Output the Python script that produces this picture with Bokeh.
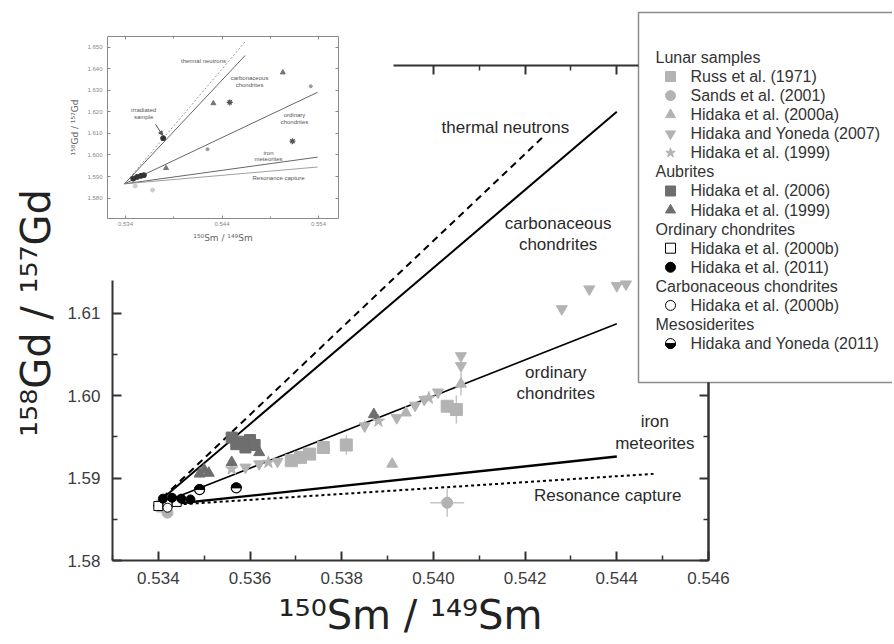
import numpy as np
from bokeh.plotting import figure
from bokeh.models import Range1d, LinearAxis, FixedTicker, PrintfTickFormatter, Arrow, NormalHead
from bokeh.embed import file_html
from bokeh.resources import INLINE
from bokeh.core.properties import value

FONT = "Liberation Sans"
LABEL_FONT = "DejaVu Sans"
LIGHT = "#b3b3b3"
DARK = "#6e6e6e"

# ---------------- data ----------------
x_ticks = [0.534, 0.536, 0.538, 0.540, 0.542, 0.544, 0.546]
x_minor = [0.533, 0.535, 0.537, 0.539, 0.541, 0.543, 0.545]
y_ticks = [1.58, 1.59, 1.60, 1.61, 1.62, 1.63, 1.64]
y_minor = [1.585, 1.595, 1.605, 1.615, 1.625, 1.635]

# model lines: common origin, individual end points
line_names = ["thermal neutrons", "carbonaceous chondrites", "ordinary chondrites",
              "iron meteorites", "Resonance capture"]
line_x0 = 0.5339
line_y0 = 1.5866
line_end_x = [0.5424, 0.5440, 0.5440, 0.5440, 0.5448]
line_end_y = [1.6314, 1.6344, 1.6087, 1.5926, 1.5905]

# line annotations (text, x, y)
label_text = ["thermal neutrons", "carbonaceous", "chondrites", "ordinary", "chondrites",
              "iron", "meteorites", "Resonance capture"]
label_x = [0.54157, 0.54272, 0.54272, 0.54267, 0.54267, 0.54483, 0.54483, 0.54380]
label_y = [1.63248, 1.62087, 1.61833, 1.60273, 1.60019, 1.59681, 1.59415, 1.58786]

# Lunar samples
russ_x = [0.5341, 0.5369, 0.5371, 0.5373, 0.5376, 0.5381, 0.5403, 0.5405]
russ_y = [1.5866, 1.5921, 1.5925, 1.5929, 1.5937, 1.5940, 1.5987, 1.5983]
sands_x = [0.5342, 0.5403]
sands_y = [1.5858, 1.5870]
hid00a_x = [0.5391, 0.5406, 0.5394]
hid00a_y = [1.5917, 1.6014, 1.5979]
hy07_x = [0.5359, 0.5362, 0.5366, 0.5370, 0.5385, 0.5392, 0.5396, 0.5398, 0.5401,
          0.5406, 0.5406, 0.5428, 0.5434, 0.5440, 0.5442]
hy07_y = [1.5913, 1.5917, 1.5920, 1.5924, 1.5963, 1.5973, 1.5988, 1.5995, 1.6004,
          1.6036, 1.6048, 1.6105, 1.6129, 1.6133, 1.6135]
hid99_x = [0.5356, 0.5364, 0.5388, 0.5399]
hid99_y = [1.5911, 1.5919, 1.5969, 1.5997]
# Aubrites
aub06_x = [0.5356, 0.5358, 0.5359, 0.5360, 0.5361, 0.5357]
aub06_y = [1.5949, 1.5944, 1.5937, 1.5946, 1.5940, 1.5941]
aub99_x = [0.5349, 0.5350, 0.5351, 0.5356, 0.5362, 0.5387]
aub99_y = [1.5905, 1.5910, 1.5906, 1.5919, 1.5931, 1.5977]
# Ordinary chondrites
oc00_x = [0.5340, 0.5342, 0.5344]
oc00_y = [1.5866, 1.5869, 1.5871]
oc11_x = [0.5341, 0.5343, 0.5345, 0.5347]
oc11_y = [1.5875, 1.5876, 1.5875, 1.5874]
# Carbonaceous chondrites
cc_x = [0.5342]
cc_y = [1.5864]
# Mesosiderites
meso_x = [0.5349, 0.5357]
meso_y = [1.5886, 1.5888]

# error bars
err_x = [0.5381, 0.5405, 0.5403, 0.5406, 0.5385, 0.5371]
err_y = [1.5940, 1.5983, 1.5870, 1.6014, 1.5963, 1.5925]
err_dx = [0.0, 0.0, 0.00037, 0.0, 0.0, 0.0]
err_dy = [0.0012, 0.0017, 0.0017, 0.0014, 0.0007, 0.0006]

# inset
ins_x_ticks = [0.534, 0.544, 0.554]
ins_x_minor = [0.539, 0.549]
ins_y_ticks = [1.57, 1.58, 1.59, 1.60, 1.61, 1.62, 1.63, 1.64, 1.65]
ins_end_x = [0.5465, 0.5464, 0.5539, 0.5539, 0.5539]
ins_end_y = [1.6531, 1.6462, 1.6291, 1.5990, 1.5944]
ins_label_text = ["thermal neutrons", "carbonaceous", "chondrites", "ordinary", "chondrites",
                  "iron", "meteorites", "Resonance capture", "irradiated", "sample"]
ins_label_x = [0.54208, 0.54685, 0.54685, 0.55151, 0.55151, 0.54882, 0.54882, 0.54985,
               0.53587, 0.53587]
ins_label_y = [1.64343, 1.63556, 1.63231, 1.61843, 1.61519, 1.60083, 1.59806, 1.58926,
               1.62074, 1.61750]
ins_tri_x = [0.5431, 0.5503, 0.5382]
ins_tri_y = [1.6240, 1.6383, 1.5939]
ins_star_x = [0.5448, 0.5513]
ins_star_y = [1.6244, 1.6064]
ins_small_x = [0.5532, 0.5425]
ins_small_y = [1.6319, 1.6027]
ins_dark_x = [0.5379, 0.5348, 0.5352, 0.5356, 0.5359]
ins_dark_y = [1.6078, 1.5890, 1.5898, 1.5903, 1.5906]
ins_light_x = [0.5350, 0.5368]
ins_light_y = [1.5856, 1.5837]

# legend rows: (text, marker, fill, line)
legend_rows = [
    ("Lunar samples", None, None, None),
    ("Russ et al. (1971)", "square", LIGHT, LIGHT),
    ("Sands et al. (2001)", "circle", LIGHT, LIGHT),
    ("Hidaka et al. (2000a)", "triangle", LIGHT, LIGHT),
    ("Hidaka and Yoneda (2007)", "inverted_triangle", LIGHT, LIGHT),
    ("Hidaka et al. (1999)", "star", LIGHT, LIGHT),
    ("Aubrites", None, None, None),
    ("Hidaka et al. (2006)", "square", DARK, DARK),
    ("Hidaka et al. (1999)", "triangle", DARK, DARK),
    ("Ordinary chondrites", None, None, None),
    ("Hidaka et al. (2000b)", "square", "white", "black"),
    ("Hidaka et al. (2011)", "circle", "black", "black"),
    ("Carbonaceous chondrites", None, None, None),
    ("Hidaka et al. (2000b)", "circle", "white", "black"),
    ("Mesosiderites", None, None, None),
    ("Hidaka and Yoneda (2011)", "half", "white", "black"),
]

# ---------------- layout geometry (canvas pixels) ----------------
CW, CH = 892, 642
MAIN_X = (0.533, 0.546); MAIN_PX = (112, 708)
MAIN_Y = (1.58, 1.64); MAIN_PY = (560, 65)
INS_X = (0.53213, 0.55607); INS_PX = (107, 338)
INS_Y = (1.5705, 1.655); INS_PY = (218, 36)


def val_at(q, d, pq):
    return d[0] + (q - pq[0]) * (d[1] - d[0]) / (pq[1] - pq[0])


x_range = Range1d(val_at(0, MAIN_X, MAIN_PX), val_at(CW, MAIN_X, MAIN_PX))
y_range = Range1d(val_at(CH, MAIN_Y, MAIN_PY), val_at(0, MAIN_Y, MAIN_PY))

p = figure(width=CW, height=CH, x_range=x_range, y_range=y_range, output_backend="svg",
           toolbar_location=None, x_axis_location=None, y_axis_location=None, min_border=0)
p.title.visible = False
p.outline_line_color = None
p.grid.visible = False
p.background_fill_color = "white"
p.border_fill_color = "white"
p.extra_x_ranges = {"ix": Range1d(val_at(0, INS_X, INS_PX), val_at(CW, INS_X, INS_PX)),
                    "px": Range1d(0, CW)}
p.extra_y_ranges = {"iy": Range1d(val_at(CH, INS_Y, INS_PY), val_at(0, INS_Y, INS_PY)),
                    "py": Range1d(CH, 0)}


def make_axis(ticks, minor, fmt, bounds, size="17px", tick_in=9, minor_in=5, color="#333333",
              width=2, labels=True, **kw):
    lo, hi = min(bounds), max(bounds)
    eps = (hi - lo) * 1e-6
    ax = LinearAxis(bounds=bounds, **kw)
    ax.ticker = FixedTicker(ticks=[t for t in ticks if lo - eps <= t <= hi + eps],
                            minor_ticks=[t for t in minor if lo - eps <= t <= hi + eps])
    ax.formatter = PrintfTickFormatter(format=fmt if labels else "")
    ax.axis_line_color = color
    ax.axis_line_width = width
    ax.major_tick_line_color = color
    ax.minor_tick_line_color = color
    ax.major_tick_line_width = width
    ax.minor_tick_line_width = max(1, width - 0.5)
    ax.major_tick_in = tick_in
    ax.major_tick_out = 0
    ax.minor_tick_in = minor_in
    ax.minor_tick_out = 0
    ax.major_label_text_font = FONT
    ax.major_label_text_font_size = size
    ax.major_label_text_color = "#3c3c3c"
    ax.axis_label_text_font = LABEL_FONT
    ax.axis_label_text_font_style = "normal"
    ax.axis_label_text_color = "#222222"
    return ax


# ---------------- legend panel box (pixel coordinates, drawn first) ----------------
PR = dict(x_range_name="px", y_range_name="py")
p.quad(left=[638], right=[CW + 40], top=[12], bottom=[382], fill_color="white",
       line_color="#8c8c8c", line_width=1.5, **PR)

# ---- main axes (frame drawn by bounded axes) ----
bx = make_axis(x_ticks, x_minor, "%.3f", MAIN_X, fixed_location=MAIN_Y[0])
bx.major_label_standoff = 11
bx.axis_label = "\u00b9\u2075\u2070Sm / \u00b9\u2074\u2079Sm"
bx.axis_label_text_font_size = "40px"
bx.axis_label_standoff = 5
p.add_layout(bx, "below")

ly = make_axis(y_ticks, y_minor, "%.2f", (MAIN_Y[0], val_at(280, MAIN_Y, MAIN_PY)),
               fixed_location=MAIN_X[0])
ly.major_label_standoff = 12
p.add_layout(ly, "left")

ylab = make_axis([], [], "%.2f", MAIN_Y, fixed_location=MAIN_X[0])
ylab.axis_line_color = None
ylab.major_label_standoff = 0
ylab.axis_label = "\u00b9\u2075\u2078Gd / \u00b9\u2075\u2077Gd"
ylab.axis_label_text_font_size = "40px"
ylab.axis_label_standoff = 54
p.add_layout(ylab, "left")

top_bounds = (val_at(393, MAIN_X, MAIN_PX), val_at(638, MAIN_X, MAIN_PX))
tx = make_axis(x_ticks, x_minor, "%.3f", top_bounds, labels=False, fixed_location=MAIN_Y[1])
p.add_layout(tx, "above")
right_bounds = (MAIN_Y[0], val_at(382, MAIN_Y, MAIN_PY))
ry = make_axis(y_ticks, y_minor, "%.2f", right_bounds, labels=False, fixed_location=MAIN_X[1])
ry.major_tick_in = 0
ry.major_tick_out = 9
ry.minor_tick_in = 0
ry.minor_tick_out = 5
p.add_layout(ry, "left")
# right frame edge also as a plain line
p.line(x=[MAIN_X[1], MAIN_X[1]], y=[right_bounds[0], right_bounds[1]], line_color="#333333",
       line_width=2)

# ---- model lines ----
line_styles = [(2.0, "7 5"), (2.0, None), (1.6, None), (2.4, None), (2.0, "3 3")]
for i in range(len(line_names)):
    w, dash = line_styles[i]
    p.line([line_x0, line_end_x[i]], [line_y0, line_end_y[i]], line_color="black",
           line_width=w, line_dash=dash if dash else "solid")

p.text(x=label_x, y=label_y, text=label_text, text_align="center", text_baseline="middle",
       text_font=value(FONT), text_font_size="17px", text_color="#2a2a2a")

# ---- error bars and data ----
ex = np.array(err_x); ey = np.array(err_y); edx = np.array(err_dx); edy = np.array(err_dy)
p.segment(ex, ey - edy, ex, ey + edy, line_color="#c4c4c4", line_width=1.5)
p.segment(ex - edx, ey, ex + edx, ey, line_color="#c4c4c4", line_width=1.5)

S = 11
p.scatter(russ_x, russ_y, marker="square", size=S + 1, fill_color=LIGHT, line_color=LIGHT)
p.scatter(sands_x, sands_y, marker="circle", size=S, fill_color=LIGHT, line_color=LIGHT)
p.scatter(hid00a_x, hid00a_y, marker="triangle", size=S, fill_color=LIGHT, line_color=LIGHT)
p.scatter(hy07_x, hy07_y, marker="inverted_triangle", size=S, fill_color=LIGHT, line_color=LIGHT)
p.scatter(hid99_x, hid99_y, marker="star", size=S + 2, fill_color=LIGHT, line_color=LIGHT)
p.scatter(aub06_x, aub06_y, marker="square", size=S, fill_color=DARK, line_color=DARK)
p.scatter(aub99_x, aub99_y, marker="triangle", size=S, fill_color=DARK, line_color=DARK)
p.scatter(oc00_x, oc00_y, marker="square", size=9, fill_color="white", line_color="black")
p.scatter(oc11_x, oc11_y, marker="circle", size=9, fill_color="black", line_color="black")
p.scatter(cc_x, cc_y, marker="circle", size=9, fill_color="white", line_color="black")
p.scatter(meso_x, meso_y, marker="circle", size=10, fill_color="white", line_color="black",
          line_width=1.2)
p.wedge(meso_x, meso_y, radius=5, radius_units="screen", start_angle=0, end_angle=np.pi,
        fill_color="black", line_color="black")

# ---------------- inset ----------------
IC = "#8a8a8a"
IR = dict(x_range_name="ix", y_range_name="iy")
ibx = make_axis(ins_x_ticks, ins_x_minor, "%.3f", INS_X, size="6px", tick_in=3, minor_in=2,
                color=IC, width=1, fixed_location=INS_Y[0], **IR)
ibx.major_label_standoff = 3
ibx.axis_label = "\u00b9\u2075\u2070Sm / \u00b9\u2074\u2079Sm"
ibx.axis_label_text_font_size = "9px"
ibx.axis_label_standoff = 4
ily = make_axis(ins_y_ticks, [], "%.3f", INS_Y, size="6px", tick_in=3, minor_in=2, color=IC,
                width=1, fixed_location=INS_X[0], **IR)
ily.major_label_standoff = 5
ily.axis_label = "\u00b9\u2075\u2078Gd / \u00b9\u2075\u2077Gd"
ily.axis_label_text_font_size = "9px"
ily.axis_label_standoff = 4
for ax in (ibx, ily):
    ax.major_label_text_color = "#888888"
    ax.axis_label_text_color = "#666666"
p.add_layout(ibx, "below")
p.add_layout(ily, "left")
itx = make_axis(ins_x_ticks, ins_x_minor, "%.3f", INS_X, labels=False, tick_in=3, minor_in=2,
                color=IC, width=1, fixed_location=INS_Y[1], **IR)
p.add_layout(itx, "above")
iry = make_axis(ins_y_ticks, [], "%.3f", INS_Y, labels=False, tick_in=3, minor_in=2, color=IC,
                width=1, fixed_location=INS_X[1], **IR)
p.add_layout(iry, "right")

ins_styles = [("2 2", 1.0, "#9a9a9a"), (None, 1.0, "#666666"), (None, 1.0, "#666666"),
              (None, 1.0, "#666666"), (None, 0.8, "#888888")]
for i in range(len(ins_end_x)):
    dash, w, c = ins_styles[i]
    p.line([line_x0, ins_end_x[i]], [line_y0, ins_end_y[i]], line_color=c, line_width=w,
           line_dash=dash if dash else "solid", **IR)
p.text(x=ins_label_x, y=ins_label_y, text=ins_label_text, text_align="center",
       text_baseline="middle", text_font=value(FONT), text_font_size="6px",
       text_color="#555555", **IR)
p.add_layout(Arrow(end=NormalHead(size=4, fill_color="#555555", line_color="#555555"),
                   x_start=0.53711, y_start=1.61426, x_end=0.53783, y_end=1.60917,
                   line_color="#555555", line_width=1, **IR))
p.scatter(ins_tri_x, ins_tri_y, marker="triangle", size=5, fill_color="#777777",
          line_color="#777777", **IR)
p.scatter(ins_star_x, ins_star_y, marker="asterisk", size=6, line_color="#555555",
          line_width=1.2, **IR)
p.scatter(ins_small_x, ins_small_y, marker="circle", size=3, fill_color="#999999",
          line_color="#999999", **IR)
p.scatter(ins_dark_x, ins_dark_y, marker="circle", size=5, fill_color="#333333",
          line_color="#333333", **IR)
p.scatter(ins_light_x, ins_light_y, marker="circle", size=4, fill_color="#cccccc",
          line_color="#cccccc", **IR)

# ---------------- legend entries ----------------
row_y = [57 + 19.07 * i for i in range(len(legend_rows))]
head_x, head_y, head_t = [], [], []
item_x, item_y, item_t = [], [], []
mk_x, mk_y, mk_m, mk_f, mk_l = [], [], [], [], []
half_x, half_y = [], []
for (t, m, f, l), yy in zip(legend_rows, row_y):
    if m is None:
        head_x.append(655); head_y.append(yy); head_t.append(t)
    else:
        item_x.append(690); item_y.append(yy); item_t.append(t)
        mk_x.append(670); mk_y.append(yy)
        if m == "half":
            half_x.append(670); half_y.append(yy)
            mk_m.append("circle"); mk_f.append("white"); mk_l.append("black")
        else:
            mk_m.append(m); mk_f.append(f); mk_l.append(l)

p.text(x=head_x, y=head_y, text=head_t, text_baseline="middle", text_font=value(FONT),
       text_font_size="16px", text_color="#333333", **PR)
p.text(x=item_x, y=item_y, text=item_t, text_baseline="middle", text_font=value(FONT),
       text_font_size="16px", text_color="#333333", **PR)
p.scatter(x=mk_x, y=mk_y, marker=mk_m, size=10, fill_color=mk_f, line_color=mk_l, **PR)
p.wedge(half_x, half_y, radius=5, radius_units="screen", start_angle=np.pi, end_angle=0,
        fill_color="black", line_color="black", **PR)

open("out.html", "w").write(file_html(p, INLINE))
